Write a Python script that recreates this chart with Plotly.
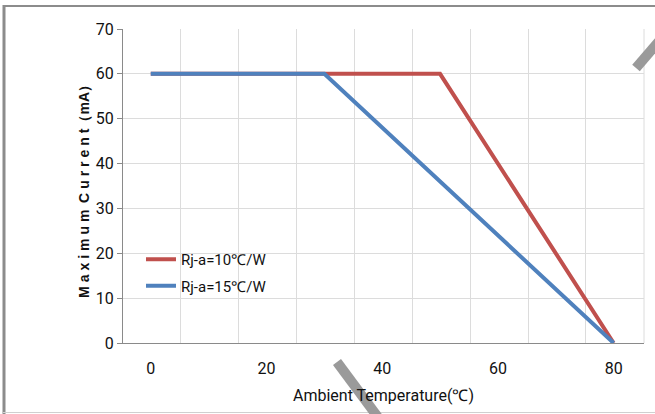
import plotly.graph_objects as go

# Data
temp_10 = [0, 50, 80]
current_10 = [60, 60, 0]
temp_15 = [0, 30, 80]
current_15 = [60, 60, 0]
series_names = ["Rj-a=10℃/W", "Rj-a=15℃/W"]
x_ticks = [0, 20, 40, 60, 80]
y_ticks = [0, 10, 20, 30, 40, 50, 60, 70]

NARROW = "Roboto, Liberation Sans, sans-serif"
TXT = "#111111"

fig = go.Figure()
fig.add_trace(go.Scatter(x=temp_10, y=current_10, mode="lines", name=series_names[0],
                         line=dict(color="#C0504D", width=4), legendgroup="a"))
fig.add_trace(go.Scatter(x=temp_15, y=current_15, mode="lines", name=series_names[1],
                         line=dict(color="#4F81BD", width=4), legendgroup="b"))

W, H = 655, 414
L, R, T, B = 123, 11, 29, 71
pw, ph = W - L - R, H - T - B

def px(x):
    return (x - L) / pw

def py(y):
    return (H - B - y) / ph

t = "\u2009\u200a"
ytitle = t.join(list("Maximum")) + " \u2009" + t.join(list("Current")) + "（mA）"

fig.update_layout(
    width=W, height=H,
    margin=dict(l=L, r=R, t=T, b=B),
    paper_bgcolor="white", plot_bgcolor="white",
    showlegend=True,
    legend=dict(x=px(141), y=py(243), xanchor="left", yanchor="top",
                bgcolor="rgba(0,0,0,0)", tracegroupgap=4,
                font=dict(family=NARROW, size=15, color=TXT)),
    xaxis=dict(range=[-4.8, 85.25], tickvals=x_ticks, ticktext=[str(v) for v in x_ticks],
               showgrid=False, zeroline=False, showline=True, linecolor="#8a8a8a", linewidth=1,
               ticks="", ticklabelstandoff=11,
               tickfont=dict(family=NARROW, size=16, color=TXT),
               minor=dict(tick0=5.2, dtick=10, showgrid=True, gridcolor="#DCDCDC", gridwidth=1),
               title=dict(text="Ambient Temperature(℃)", standoff=12,
                          font=dict(family=NARROW, size=16, color=TXT)),
               fixedrange=True),
    yaxis=dict(range=[0, 70], tickvals=y_ticks, showgrid=True, gridcolor="#DCDCDC", gridwidth=1,
               zeroline=False, showline=True, linecolor="#8a8a8a", linewidth=1,
               ticks="outside", ticklen=5, tickcolor="#8a8a8a",
               tickfont=dict(family=NARROW, size=16, color=TXT),
               fixedrange=True),
    annotations=[
        dict(text="<b>" + ytitle + "</b>", xref="paper", yref="paper",
             x=px(84), y=py(188), xanchor="center", yanchor="middle", textangle=-90,
             showarrow=False,
             font=dict(family="Liberation Sans, Arial, sans-serif", size=14, color=TXT)),
    ],
    shapes=[
        # outer frame
        dict(type="line", xref="paper", yref="paper", x0=px(4), x1=px(4), y0=py(5), y1=py(416),
             line=dict(color="#8c8c8c", width=3)),
        dict(type="line", xref="paper", yref="paper", x0=px(3), x1=px(660), y0=py(6), y1=py(6),
             line=dict(color="#8c8c8c", width=2)),
        dict(type="line", xref="paper", yref="paper", x0=px(3), x1=px(660), y0=py(412.5), y1=py(412.5),
             line=dict(color="#d0d0d0", width=1)),
        # right plot-area border
        dict(type="line", xref="paper", yref="paper", x0=1, x1=1, y0=0, y1=1,
             line=dict(color="#DCDCDC", width=1)),
        # watermark strokes
        dict(type="line", xref="paper", yref="paper", x0=px(636), y0=py(68), x1=px(660), y1=py(40),
             line=dict(color="#9a9a9a", width=10)),
        dict(type="line", xref="paper", yref="paper", x0=px(337), y0=py(362), x1=px(380), y1=py(420),
             line=dict(color="#9a9a9a", width=10)),
    ],
)

fig.write_html("out.html", config={"displayModeBar": False},
               post_script="document.body.style.margin='0px';")
